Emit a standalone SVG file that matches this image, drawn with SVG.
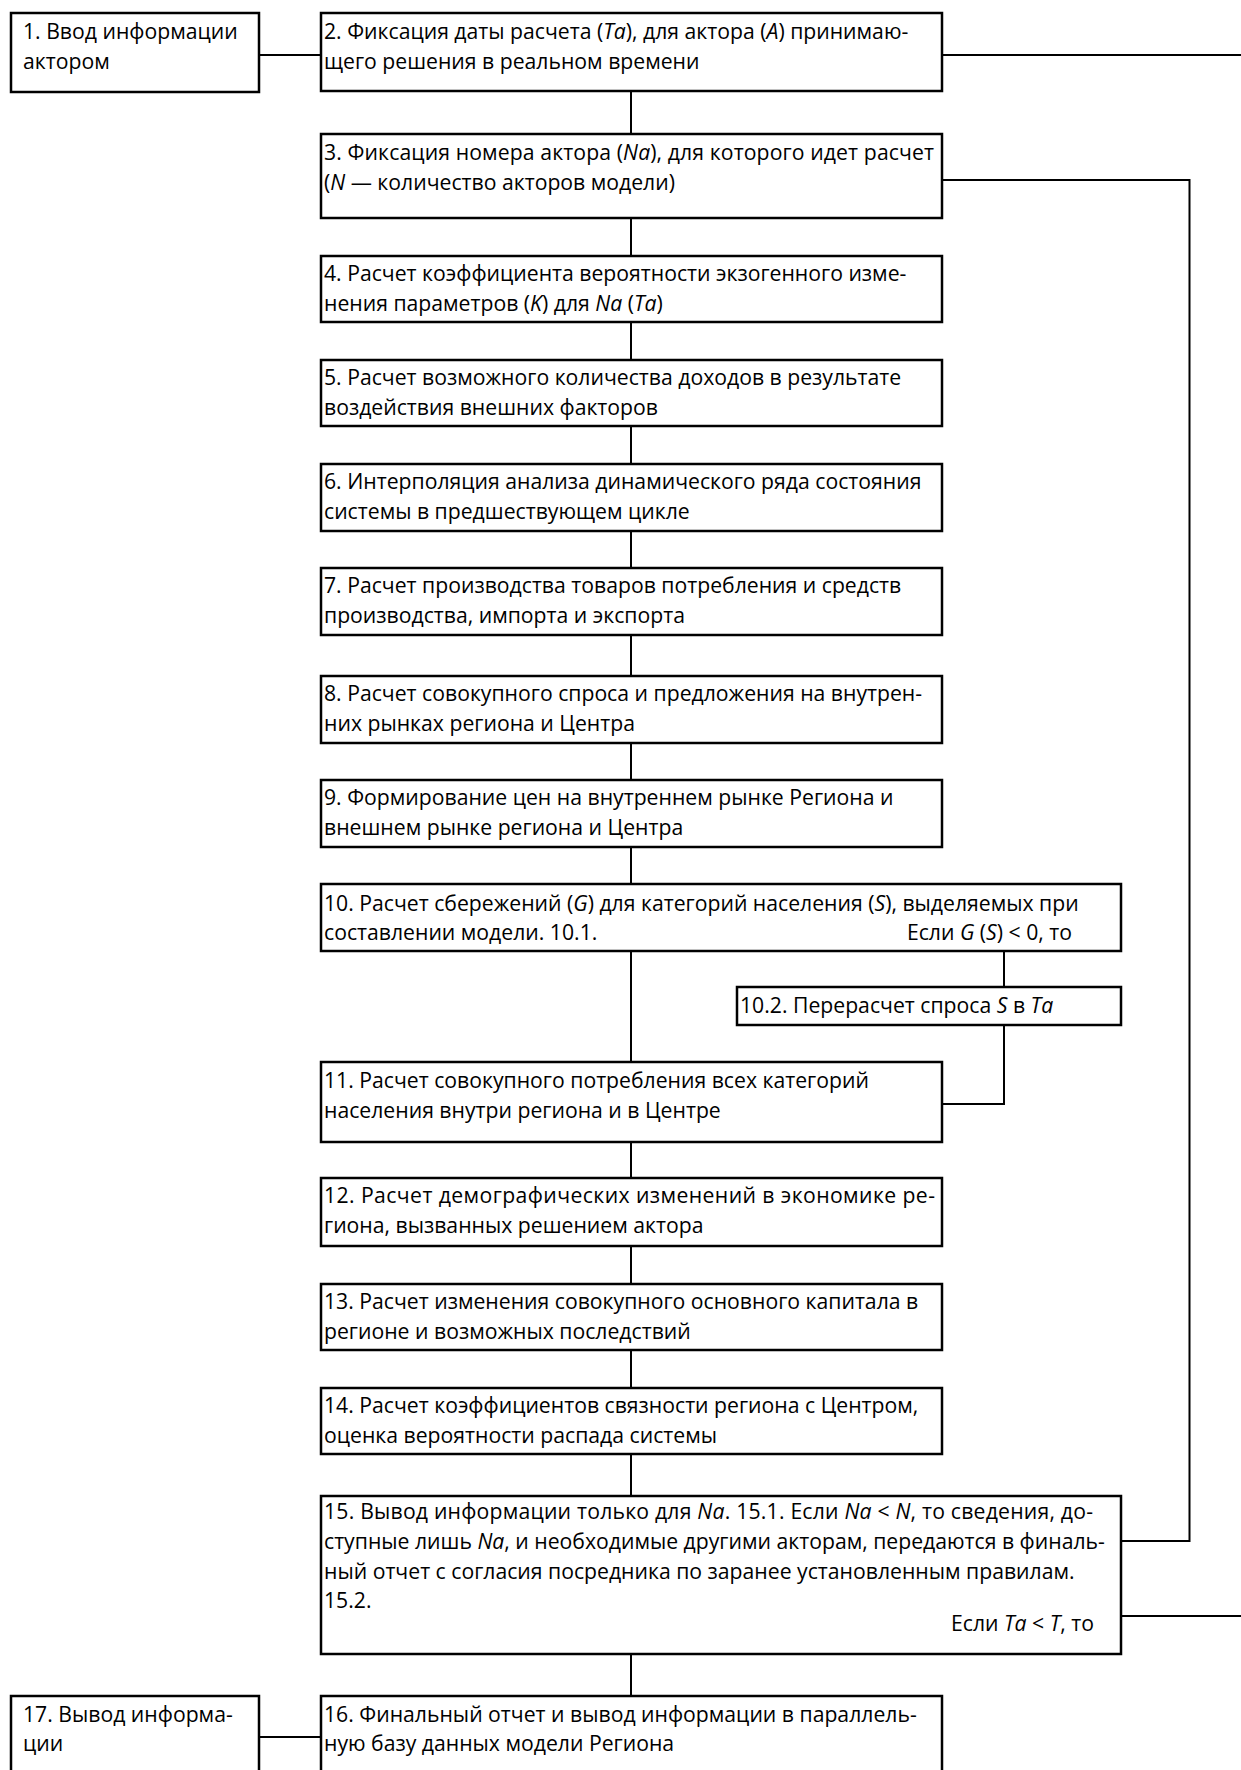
<svg xmlns="http://www.w3.org/2000/svg" width="1241" height="1770" viewBox="0 0 1241 1770">
<style>
.box{fill:#fff;stroke:#000;stroke-width:2.5}
.con{fill:none;stroke:#000;stroke-width:2}
text{font-family:"Open Sans","Liberation Sans",sans-serif;font-size:21.2px;fill:#000}
.i{font-style:italic}
.r{text-anchor:end}
</style>
<rect width="1241" height="1770" fill="#fff"/>
<g id="connectors">
<line class="con" x1="259" y1="55" x2="321" y2="55"/>
<line class="con" x1="942" y1="55" x2="1241" y2="55"/>
<line class="con" x1="631" y1="91" x2="631" y2="134"/>
<line class="con" x1="631" y1="218" x2="631" y2="256"/>
<line class="con" x1="631" y1="322" x2="631" y2="360"/>
<line class="con" x1="631" y1="426" x2="631" y2="464"/>
<line class="con" x1="631" y1="531" x2="631" y2="568"/>
<line class="con" x1="631" y1="635" x2="631" y2="676"/>
<line class="con" x1="631" y1="743" x2="631" y2="780"/>
<line class="con" x1="631" y1="847" x2="631" y2="884"/>
<line class="con" x1="631" y1="951" x2="631" y2="1062"/>
<line class="con" x1="631" y1="1142" x2="631" y2="1178"/>
<line class="con" x1="631" y1="1246" x2="631" y2="1284"/>
<line class="con" x1="631" y1="1350" x2="631" y2="1388"/>
<line class="con" x1="631" y1="1454" x2="631" y2="1496"/>
<line class="con" x1="631" y1="1654" x2="631" y2="1696"/>
<polyline class="con" points="942,180 1189.5,180 1189.5,1541 1121,1541"/>
<line class="con" x1="1004" y1="951" x2="1004" y2="987"/>
<polyline class="con" points="1004,1025 1004,1104 942,1104"/>
<line class="con" x1="1121" y1="1616" x2="1241" y2="1616"/>
<line class="con" x1="259" y1="1737" x2="321" y2="1737"/>
</g>
<g id="n1"><rect class="box" x="11" y="13" width="248" height="79"/>
<text x="23" y="39">1. Ввод информации</text><text x="23" y="68.5">актором</text></g>
<g id="n2"><rect class="box" x="321" y="13" width="621" height="78"/>
<text x="324" y="39">2. Фиксация даты расчета (<tspan class="i">Ta</tspan>), для актора (<tspan class="i">A</tspan>) принимаю-</text><text x="324" y="68.5">щего решения в реальном времени</text></g>
<g id="n3"><rect class="box" x="321" y="134" width="621" height="84"/>
<text x="324" y="160" textLength="610" lengthAdjust="spacing">3. Фиксация номера актора (<tspan class="i">Na</tspan>), для которого идет расчет</text><text x="324" y="189.5">(<tspan class="i">N</tspan> — количество акторов модели)</text></g>
<g id="n4"><rect class="box" x="321" y="256" width="621" height="66"/>
<text x="324" y="281">4. Расчет коэффициента вероятности экзогенного изме-</text><text x="324" y="310.5">нения параметров (<tspan class="i">K</tspan>) для <tspan class="i">Na</tspan> (<tspan class="i">Ta</tspan>)</text></g>
<g id="n5"><rect class="box" x="321" y="360" width="621" height="66"/>
<text x="324" y="385">5. Расчет возможного количества доходов в результате</text><text x="324" y="414.5">воздействия внешних факторов</text></g>
<g id="n6"><rect class="box" x="321" y="464" width="621" height="67"/>
<text x="324" y="489">6. Интерполяция анализа динамического ряда состояния</text><text x="324" y="518.5">системы в предшествующем цикле</text></g>
<g id="n7"><rect class="box" x="321" y="568" width="621" height="67"/>
<text x="324" y="593">7. Расчет производства товаров потребления и средств</text><text x="324" y="622.5">производства, импорта и экспорта</text></g>
<g id="n8"><rect class="box" x="321" y="676" width="621" height="67"/>
<text x="324" y="701">8. Расчет совокупного спроса и предложения на внутрен-</text><text x="324" y="730.5">них рынках региона и Центра</text></g>
<g id="n9"><rect class="box" x="321" y="780" width="621" height="67"/>
<text x="324" y="805">9. Формирование цен на внутреннем рынке Региона и</text><text x="324" y="834.5">внешнем рынке региона и Центра</text></g>
<g id="n10"><rect class="box" x="321" y="884" width="800" height="67"/>
<text x="324" y="910.5">10. Расчет сбережений (<tspan class="i">G</tspan>) для категорий населения (<tspan class="i">S</tspan>), выделяемых при</text><text x="324" y="940">составлении модели. 10.1.</text><text class="r" x="1072" y="940">Если <tspan class="i">G</tspan> (<tspan class="i">S</tspan>) &lt; 0, то</text></g>
<g id="n10_2"><rect class="box" x="737" y="987" width="384" height="38"/>
<text x="740" y="1013">10.2. Перерасчет спроса <tspan class="i">S</tspan> в <tspan class="i">Ta</tspan></text></g>
<g id="n11"><rect class="box" x="321" y="1062" width="621" height="80"/>
<text x="324" y="1088">11. Расчет совокупного потребления всех категорий</text><text x="324" y="1117.5">населения внутри региона и в Центре</text></g>
<g id="n12"><rect class="box" x="321" y="1178" width="621" height="68"/>
<text x="324" y="1203" textLength="611" lengthAdjust="spacing">12. Расчет демографических изменений в экономике ре-</text><text x="324" y="1232.5">гиона, вызванных решением актора</text></g>
<g id="n13"><rect class="box" x="321" y="1284" width="621" height="66"/>
<text x="324" y="1309">13. Расчет изменения совокупного основного капитала в</text><text x="324" y="1338.5">регионе и возможных последствий</text></g>
<g id="n14"><rect class="box" x="321" y="1388" width="621" height="66"/>
<text x="324" y="1413">14. Расчет коэффициентов связности региона с Центром,</text><text x="324" y="1442.5">оценка вероятности распада системы</text></g>
<g id="n15"><rect class="box" x="321" y="1496" width="800" height="158"/>
<text x="324" y="1519" textLength="769" lengthAdjust="spacing">15. Вывод информации только для <tspan class="i">Na</tspan>. 15.1. Если <tspan class="i">Na</tspan> &lt; <tspan class="i">N</tspan>, то сведения, до-</text>
<text x="324" y="1549">ступные лишь <tspan class="i">Na</tspan>, и необходимые другими акторам, передаются в финаль-</text>
<text x="324" y="1579">ный отчет с согласия посредника по заранее установленным правилам.</text>
<text x="324" y="1608">15.2.</text>
<text class="r" x="1094" y="1631">Если <tspan class="i">Ta</tspan> &lt; <tspan class="i">T</tspan>, то</text></g>
<g id="n16"><rect class="box" x="321" y="1696" width="621" height="90"/>
<text x="324" y="1722">16. Финальный отчет и вывод информации в параллель-</text><text x="324" y="1751">ную базу данных модели Региона</text></g>
<g id="n17"><rect class="box" x="11" y="1696" width="248" height="90"/>
<text x="23" y="1722">17. Вывод информа-</text><text x="23" y="1751">ции</text></g>
</svg>
